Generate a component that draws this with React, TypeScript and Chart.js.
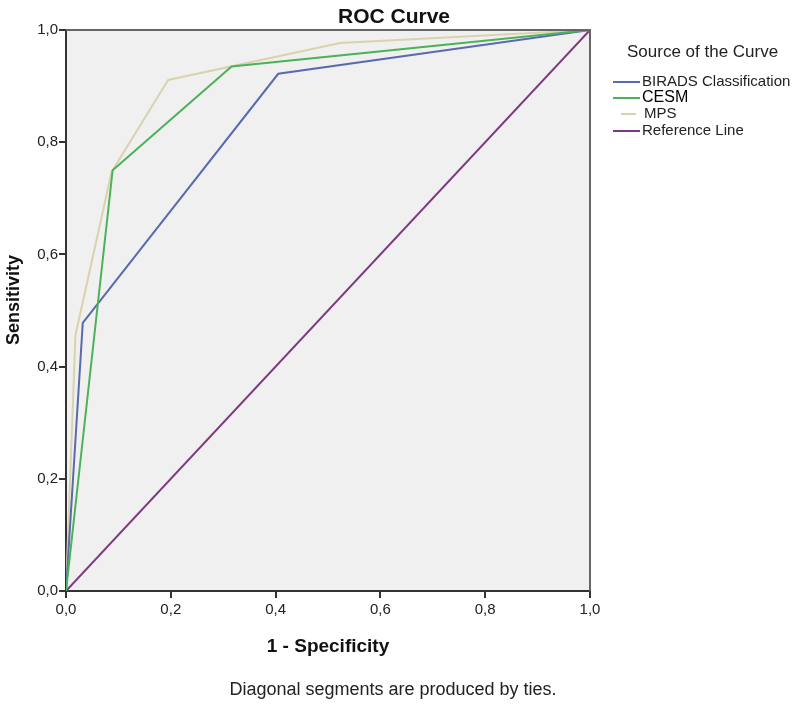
import React, { useEffect, useRef } from 'react';
import { Chart, registerables } from 'chart.js';

Chart.register(...registerables);

const seriesNames = ['BIRADS Classification', 'CESM', 'MPS', 'Reference Line'];
const seriesColors = ['#5a6aae', '#4cb25a', '#d9d3ad', '#7d3a80'];

const biradsX = [0, 0.032, 0.405, 1];
const biradsY = [0, 0.478, 0.922, 1];
const cesmX = [0, 0.089, 0.316, 1];
const cesmY = [0, 0.75, 0.935, 1];
const mpsX = [0, 0.018, 0.087, 0.195, 0.523, 1];
const mpsY = [0, 0.456, 0.747, 0.911, 0.977, 1];
const refX = [0, 1];
const refY = [0, 1];

const tickValues = [0, 0.2, 0.4, 0.6, 0.8, 1];
const tickLabels = ['0,0', '0,2', '0,4', '0,6', '0,8', '1,0'];

const chartTitle = 'ROC Curve';
const xTitle = '1 - Specificity';
const yTitle = 'Sensitivity';
const legendTitle = 'Source of the Curve';
const footnote = 'Diagonal segments are produced by ties.';

const FONT = '"Liberation Sans", Arial, sans-serif';

const toPoints = (xs: number[], ys: number[]) => xs.map((x, i) => ({ x, y: ys[i] }));

const decorPlugin = {
  id: 'decor',
  beforeDraw(chart: any) {
    const { ctx, chartArea: a } = chart;
    ctx.save();
    ctx.fillStyle = '#ffffff';
    ctx.fillRect(0, 0, chart.width, chart.height);
    ctx.fillStyle = '#f0f0f0';
    ctx.fillRect(a.left, a.top, a.right - a.left, a.bottom - a.top);
    ctx.restore();
  },
  afterDraw(chart: any) {
    const { ctx, chartArea: a } = chart;
    ctx.save();
    ctx.strokeStyle = '#666';
    ctx.lineWidth = 2;
    ctx.beginPath();
    ctx.moveTo(a.left, a.top);
    ctx.lineTo(a.right, a.top);
    ctx.lineTo(a.right, a.bottom);
    ctx.stroke();

    const cx = (a.left + a.right) / 2;
    ctx.fillStyle = '#111';
    ctx.textAlign = 'center';
    ctx.textBaseline = 'alphabetic';
    ctx.font = `bold 21px ${FONT}`;
    ctx.fillText(chartTitle, 394, 23);
    ctx.font = `bold 19px ${FONT}`;
    ctx.fillText(xTitle, cx, 652);
    ctx.save();
    ctx.translate(19, 300);
    ctx.rotate(-Math.PI / 2);
    ctx.font = `bold 18px ${FONT}`;
    ctx.fillText(yTitle, 0, 0);
    ctx.restore();
    ctx.fillStyle = '#222';
    ctx.font = `18px ${FONT}`;
    ctx.fillText(footnote, 393, 695);

    ctx.textBaseline = 'middle';
    ctx.fillStyle = '#222';
    ctx.font = `17px ${FONT}`;
    ctx.textAlign = 'left';
    ctx.fillText(legendTitle, 627, 52);
    const rowY = [82, 98, 114, 131];
    chart.data.datasets.forEach((ds: any, i: number) => {
      const y = rowY[i];
      ctx.strokeStyle = ds.borderColor;
      ctx.lineWidth = 2;
      ctx.beginPath();
      ctx.moveTo(i === 2 ? 621 : 613, y);
      ctx.lineTo(i === 2 ? 636 : 640, y);
      ctx.stroke();
      ctx.fillStyle = i === 1 ? '#000' : '#222';
      ctx.font = i === 1 ? `16px ${FONT}` : `15px ${FONT}`;
      ctx.fillText(ds.label, i === 2 ? 644 : 642, y);
    });
    ctx.restore();
  },
};

export default function App() {
  const ref = useRef<HTMLCanvasElement | null>(null);

  useEffect(() => {
    if (!ref.current) return;
    const tickFont = { family: FONT, size: 15 };
    const axisCommon = (isX: boolean) => ({
      type: 'linear' as const,
      min: 0,
      max: 1,
      afterBuildTicks: (scale: any) => {
        scale.ticks = tickValues.map((v) => ({ value: v }));
      },
      afterFit: (scale: any) => {
        if (isX) scale.height = 113;
        else scale.width = 66;
      },
      ticks: {
        color: '#222',
        font: tickFont,
        padding: isX ? 3 : 1,
        autoSkip: false,
        maxRotation: 0,
        callback: (_v: any, i: number) => tickLabels[i],
      },
      grid: {
        display: true,
        drawOnChartArea: false,
        drawTicks: true,
        tickLength: 7,
        color: '#333',
        lineWidth: 2,
      },
      border: { display: true, color: '#333', width: 2 },
      title: { display: false },
    });

    const chart = new Chart(ref.current, {
      type: 'scatter',
      data: {
        datasets: [
          { label: seriesNames[0], data: toPoints(biradsX, biradsY), borderColor: seriesColors[0], order: 1 },
          { label: seriesNames[1], data: toPoints(cesmX, cesmY), borderColor: seriesColors[1], order: 0 },
          { label: seriesNames[2], data: toPoints(mpsX, mpsY), borderColor: seriesColors[2], order: 2 },
          { label: seriesNames[3], data: toPoints(refX, refY), borderColor: seriesColors[3], order: 3 },
        ].map((d) => ({
          ...d,
          showLine: true,
          borderWidth: 2,
          pointRadius: 0,
          pointHoverRadius: 0,
          tension: 0,
          fill: false,
          backgroundColor: d.borderColor,
        })),
      },
      options: {
        responsive: false,
        animation: false,
        events: [],
        layout: { padding: { left: 0, top: 30, right: 207, bottom: 0 } },
        plugins: {
          legend: { display: false },
          title: { display: false },
          tooltip: { enabled: false },
        },
        scales: {
          x: axisCommon(true) as any,
          y: axisCommon(false) as any,
        },
      },
      plugins: [decorPlugin],
    });
    return () => chart.destroy();
  }, []);

  return (
    <div style={{ position: 'absolute', left: 0, top: 0, width: 797, height: 704, background: '#fff' }}>
      <canvas ref={ref} width={797} height={704} style={{ display: 'block', width: 797, height: 704 }} />
    </div>
  );
}
